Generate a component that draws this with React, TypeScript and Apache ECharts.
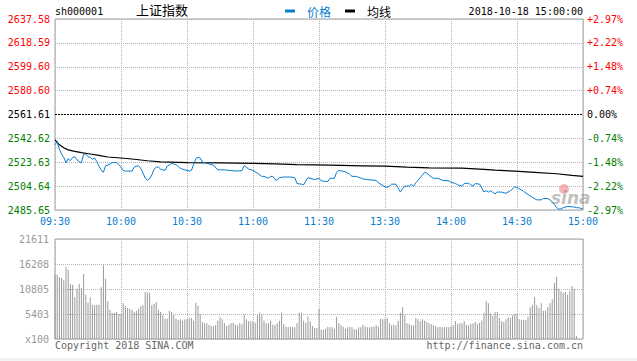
import React, { useEffect, useRef } from "react";
import * as echarts from "echarts";

const preClose = 2561.61;
const leftTicks = ["2485.65", "2504.64", "2523.63", "2542.62", "2561.61", "2580.60", "2599.60", "2618.59", "2637.58"];
const rightTicks = ["-2.97%", "-2.22%", "-1.48%", "-0.74%", "0.00%", "+0.74%", "+1.48%", "+2.22%", "+2.97%"];
const timeTicks = ["09:30", "10:00", "10:30", "11:00", "11:30", "13:30", "14:00", "14:30", "15:00"];
const volTicks = ["x100", "5403", "10805", "16208", "21611"];

// [minute since 09:30, price]
const priceLine: [number, number][] = [
  [0, 2537.5], [1, 2540.0], [2, 2534.0], [3, 2530.1], [4, 2527.5], [5, 2523.1], [6, 2526.5], [7, 2524.9], [8, 2527.5], [9, 2528.0],
  [10, 2525.5], [11, 2524.2], [12, 2523.1], [13, 2530.1], [14, 2530.1], [15, 2528.0], [16, 2527.5], [17, 2526.0], [18, 2527.0], [19, 2524.0],
  [20, 2520.5], [21, 2517.5], [22, 2515.6], [23, 2520.8], [24, 2521.3], [25, 2522.3], [26, 2523.4], [28, 2523.4], [29, 2521.8], [30, 2519.7],
  [31, 2517.1], [32, 2516.6], [35, 2516.6], [36, 2519.7], [37, 2520.5], [38, 2520.8], [39, 2518.7], [40, 2515.0], [41, 2511.0], [42, 2509.3],
  [43, 2510.4], [44, 2513.5], [45, 2518.0], [46, 2519.7], [47, 2520.0], [48, 2518.0], [50, 2517.1], [51, 2520.5], [53, 2522.6], [55, 2521.8],
  [57, 2518.7], [59, 2517.6], [61, 2516.6], [62, 2517.1], [63, 2521.8], [64, 2526.5], [65, 2527.5], [66, 2527.0], [67, 2523.9], [70, 2522.3],
  [72, 2521.3], [74, 2517.6], [77, 2517.6], [79, 2517.1], [83, 2516.6], [85, 2517.1], [86, 2521.0], [88, 2518.2], [90, 2517.1], [92, 2515.0],
  [94, 2512.4], [95, 2512.4], [97, 2510.9], [98, 2512.4], [99, 2512.4], [100, 2509.8], [101, 2509.3], [102, 2511.4], [104, 2511.9], [107, 2511.9],
  [109, 2511.4], [110, 2506.7], [112, 2506.2], [113, 2505.7], [114, 2508.8], [115, 2511.4], [118, 2509.8], [120, 2510.9], [121, 2508.8], [124, 2508.3],
  [125, 2510.9], [127, 2510.9], [128, 2515.6], [129, 2517.1], [132, 2516.1], [134, 2514.0], [135, 2512.4], [137, 2512.4], [140, 2510.4], [142, 2509.8],
  [145, 2509.3], [146, 2509.3], [147, 2507.2], [150, 2504.1], [151, 2503.6], [152, 2504.6], [153, 2506.2], [155, 2506.2], [156, 2503.1], [157, 2499.9],
  [158, 2502.6], [159, 2504.6], [161, 2504.6], [162, 2506.0], [163, 2504.6], [164, 2507.2], [165, 2509.3], [166, 2511.4], [167, 2513.5], [168, 2515.6],
  [169, 2515.0], [170, 2513.5], [171, 2511.9], [172, 2510.9], [174, 2510.9], [176, 2509.3], [179, 2508.8], [180, 2507.8], [182, 2506.7], [183, 2505.7],
  [185, 2504.6], [186, 2506.7], [188, 2507.0], [189, 2505.7], [190, 2504.6], [191, 2506.7], [193, 2506.2], [194, 2503.0], [195, 2500.0], [196, 2501.0],
  [197, 2499.9], [198, 2501.0], [200, 2498.4], [201, 2499.9], [203, 2499.9], [205, 2498.9], [207, 2501.0], [209, 2504.1], [210, 2503.6], [211, 2502.6],
  [213, 2500.5], [215, 2497.9], [217, 2495.8], [219, 2493.7], [221, 2493.7], [222, 2494.8], [224, 2494.8], [225, 2493.7], [226, 2492.1], [227, 2490.1],
  [228, 2487.5], [229, 2486.4], [230, 2486.4], [231, 2487.5], [233, 2488.5], [235, 2488.2], [236, 2488.0], [237, 2487.5], [238, 2487.5], [239, 2487.0],
  [240, 2486.4],
];

const avgLine: [number, number][] = [
  [0, 2541.5], [2, 2537.5], [4, 2535.2], [6, 2533.5], [9, 2532.3], [12, 2531.3], [16, 2530.2], [20, 2529.1], [24, 2527.8], [30, 2527.0],
  [36, 2526.0], [42, 2524.8], [48, 2523.9], [60, 2523.4], [75, 2523.1], [90, 2522.8], [100, 2522.4], [110, 2521.8], [125, 2521.3], [140, 2520.8],
  [150, 2520.5], [160, 2519.8], [170, 2519.2], [185, 2518.9], [195, 2517.9], [200, 2517.3], [209, 2516.6], [218, 2515.6], [228, 2514.5], [235, 2513.2],
  [240, 2512.4],
];

const volumes: number[] = [
  13900, 13900, 13330, 13180, 12680, 15490, 14980, 11890, 11740, 9000, 10880, 11890, 11020, 14050, 9580, 7850, 9000, 7420, 7280, 7420,
  7420, 11170, 15920, 13040, 8140, 6340, 5620, 5620, 5830, 5400, 5400, 7710, 7130, 6700, 6560, 6270, 5830, 6120, 6560, 7060,
  7280, 10160, 10010, 10010, 7280, 7560, 8000, 6340, 5830, 5110, 4390, 4390, 6120, 5830, 5110, 4390, 4100, 4250, 3960, 4250,
  4250, 4540, 4540, 3960, 7850, 7200, 5400, 3670, 3390, 3390, 3100, 2810, 2810, 2950, 3960, 4680, 4250, 3460, 2810, 3100,
  3390, 3530, 3100, 2950, 3390, 3240, 5260, 4250, 3820, 3820, 3820, 3530, 5110, 5690, 5400, 3960, 3390, 3390, 3960, 3100,
  2950, 3390, 3960, 5690, 3240, 2670, 2670, 2670, 2520, 2520, 3390, 5690, 5690, 3960, 3530, 4830, 3820, 2810, 2380, 2380,
  6560, 2020, 2020, 2230, 2670, 2520, 2520, 2230, 4830, 3390, 2950, 2670, 2230, 2520, 2670, 2520, 2090, 2090, 2520, 2520,
  3100, 2670, 2520, 2520, 2670, 2670, 2950, 2670, 4390, 4250, 4390, 4540, 3390, 2950, 3100, 2950, 3960, 5690, 6840, 5110,
  3390, 3240, 2950, 2950, 4540, 4250, 3820, 4250, 3960, 3670, 3390, 3240, 2950, 2810, 2520, 2670, 2520, 2520, 2670, 2520,
  2670, 2950, 3820, 3240, 3390, 3390, 3820, 3100, 2950, 3240, 3390, 3670, 3240, 3530, 3960, 5690, 8140, 7710, 5550, 4970,
  5830, 5830, 4540, 3820, 3670, 4250, 4680, 4540, 5110, 5400, 5400, 4250, 4100, 4100, 4100, 4830, 6840, 7420, 9000, 7280,
  6700, 7710, 6120, 6120, 6840, 7710, 8570, 12170, 13470, 10880, 10300, 10010, 10160, 9580, 10300, 11450, 10880, 650, 0, 0,
  0,
];

const MONO = "'DejaVu Sans Mono', 'Liberation Mono', monospace";
const CJK = "'Noto Sans CJK SC', sans-serif";
const BLUE = "#0a7ccf";
const GRID = "#b4b4b4";
const BORDER = "#a0a0a0";

export default function App() {
  const ref = useRef<HTMLDivElement>(null);
  useEffect(() => {
    if (!ref.current) return;
    const chart = echarts.init(ref.current, undefined, { renderer: "svg" });
    const step = (parseFloat(leftTicks[8]) - parseFloat(leftTicks[0])) / 8;
    const toU = (p: number) => (p - preClose) / step;
    const idx = (v: number) => Math.round(v) + 4;
    const styleOf = (i: number) => (i > 4 ? "r" : i < 4 ? "g" : "k");
    const rich = {
      r: { color: "#ff0000", fontFamily: MONO, fontSize: 10 },
      g: { color: "#008000", fontFamily: MONO, fontSize: 10 },
      k: { color: "#000000", fontFamily: MONO, fontSize: 10 },
    };
    const splitColors = leftTicks.map((_, i) => (i === 4 ? "rgba(0,0,0,0)" : GRID));

    chart.setOption({
      animation: false,
      backgroundColor: "#ffffff",
      grid: [
        { left: 55, top: 19, width: 528, height: 191, show: true, borderColor: BORDER, borderWidth: 1, backgroundColor: "transparent" },
        { left: 55, top: 239, width: 528, height: 100, show: true, borderColor: BORDER, borderWidth: 1, backgroundColor: "transparent" },
      ],
      legend: {
        left: 280,
        top: 0,
        itemWidth: 10,
        itemHeight: 3,
        itemGap: 14,
        icon: "rect",
        textStyle: { fontFamily: CJK, fontSize: 12, padding: [0, 0, 0, 7] },
        data: [
          { name: "价格", textStyle: { color: BLUE } },
          { name: "均线", textStyle: { color: "#000" } },
        ],
      },
      xAxis: [
        {
          type: "value", gridIndex: 0, min: 0, max: 240, interval: 30,
          axisLine: { show: false }, axisTick: { show: false },
          axisLabel: {
            margin: 6, color: BLUE, fontFamily: MONO, fontSize: 10,
            formatter: (v: number) => timeTicks[Math.round(v / 30)] ?? "",
          },
          splitLine: { show: true, lineStyle: { color: GRID, type: [1, 1], width: 1 } },
        },
        {
          type: "value", gridIndex: 1, min: 0, max: 240, interval: 30,
          axisLine: { show: false }, axisTick: { show: false }, axisLabel: { show: false },
          splitLine: { show: true, lineStyle: { color: GRID, type: [1, 1], width: 1 } },
        },
      ],
      yAxis: [
        {
          type: "value", gridIndex: 0, min: -4, max: 4, interval: 1, position: "left",
          axisLine: { show: false }, axisTick: { show: false },
          axisLabel: {
            margin: 5, rich,
            formatter: (v: number) => `{${styleOf(idx(v))}|${leftTicks[idx(v)]}}`,
          },
          splitLine: { show: true, lineStyle: { color: splitColors, type: [1, 1], width: 1 } },
        },
        {
          type: "value", gridIndex: 0, min: -4, max: 4, interval: 1, position: "right",
          axisLine: { show: false }, axisTick: { show: false },
          axisLabel: {
            margin: 4, rich,
            formatter: (v: number) => `{${styleOf(idx(v))}|${rightTicks[idx(v)]}}`,
          },
          splitLine: { show: false },
        },
        {
          type: "value", gridIndex: 1, min: 0, max: 21611, interval: 21611 / 4,
          axisLine: { show: false }, axisTick: { show: false },
          axisLabel: {
            margin: 6, color: "#999999", fontFamily: MONO, fontSize: 10,
            formatter: (v: number) => volTicks[Math.round(v / (21611 / 4))] ?? "",
          },
          splitLine: { show: true, lineStyle: { color: GRID, type: [1, 1], width: 1 } },
        },
      ],
      series: [
        {
          name: "均线", type: "line", xAxisIndex: 0, yAxisIndex: 0,
          data: avgLine.map(([m, p]) => [m, toU(p)]),
          showSymbol: false, color: "#000",
          lineStyle: { color: "#000", width: 1.2 },
          z: 3,
        },
        {
          name: "价格", type: "line", xAxisIndex: 0, yAxisIndex: 0,
          data: priceLine.map(([m, p]) => [m, toU(p)]),
          showSymbol: false, color: BLUE,
          lineStyle: { color: BLUE, width: 1 },
          z: 4,
          markLine: {
            silent: true, symbol: "none", label: { show: false },
            lineStyle: { color: "#000", type: [2, 1], width: 1 },
            data: [{ yAxis: 0 }],
          },
        },
        {
          name: "成交量", type: "bar", xAxisIndex: 1, yAxisIndex: 2,
          data: volumes.map((v, i) => [i, v]),
          barWidth: 1, itemStyle: { color: "#999999" },
        },
      ],
      graphic: [
        { type: "text", left: 55, top: 6, style: { text: "sh000001", font: `10px ${MONO}`, fill: "#000" } },
        { type: "text", left: 136, top: 3, style: { text: "上证指数", font: `13px ${CJK}`, fill: "#000" } },
        { type: "text", right: 54, top: 6, style: { text: "2018-10-18 15:00:00", font: `10px ${MONO}`, fill: "#000" } },
        { type: "text", left: 55, top: 340, style: { text: "Copyright 2018 SINA.COM", font: `10px ${MONO}`, fill: "#666" } },
        { type: "text", right: 54, top: 340, style: { text: "http://finance.sina.com.cn", font: `10px ${MONO}`, fill: "#666" } },
        { type: "rect", left: 0, top: 358, shape: { width: 637, height: 3 }, style: { fill: "#f3f3f3" } },
        { type: "circle", shape: { cx: 564, cy: 189, r: 5 }, style: { fill: "rgba(235,90,90,0.45)" }, z: 10 },
        { type: "text", left: 551, top: 189, style: { text: "sina", font: `italic bold 17px 'DejaVu Sans', sans-serif`, fill: "rgba(140,140,140,0.55)" }, z: 10 },
      ],
    });
    return () => chart.dispose();
  }, []);
  return <div ref={ref} style={{ position: "absolute", left: 0, top: 0, width: 637, height: 361, background: "#fff" }} />;
}
